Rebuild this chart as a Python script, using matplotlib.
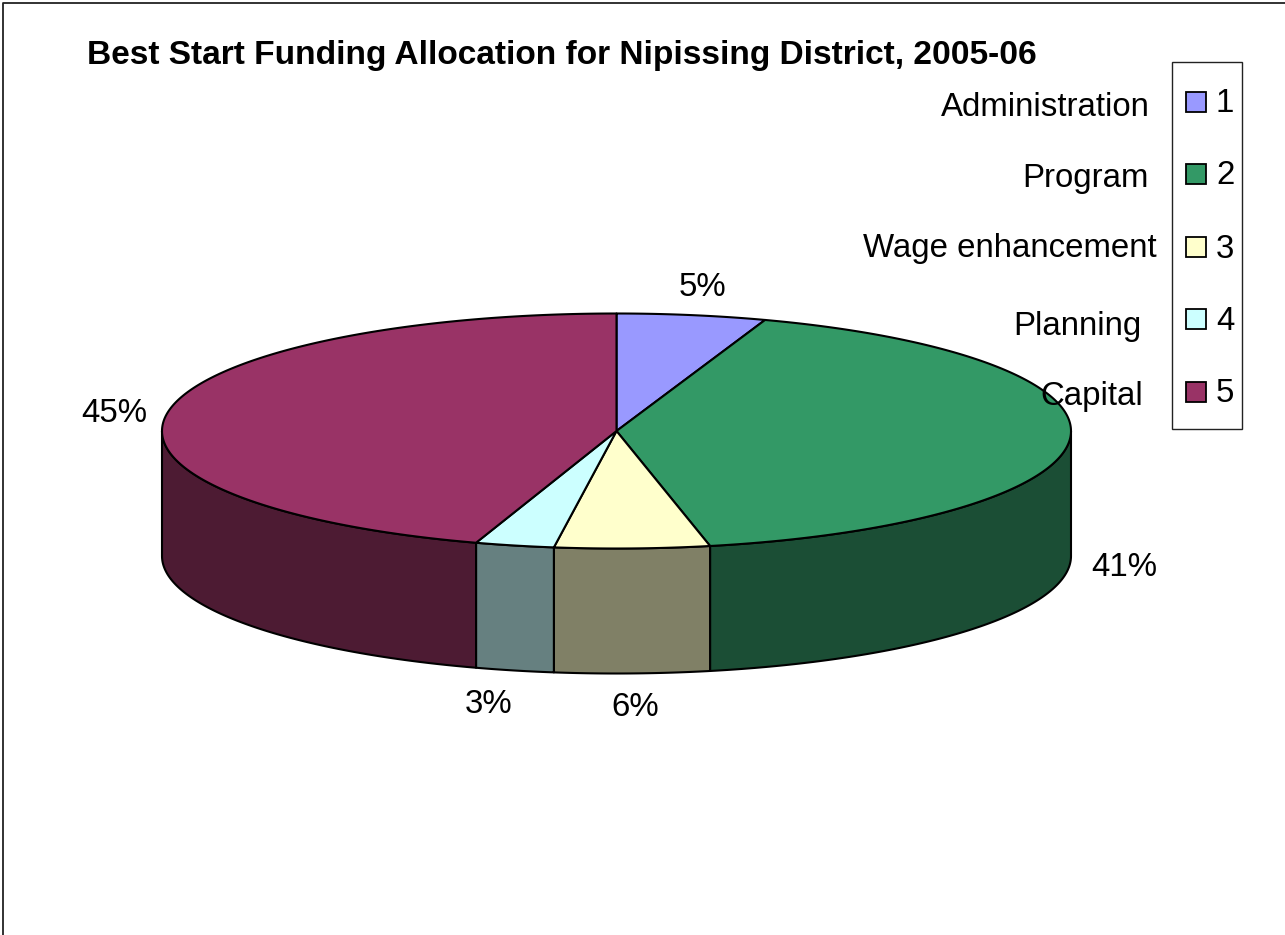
import numpy as np
import matplotlib
matplotlib.use("Agg")
import matplotlib.pyplot as plt
from matplotlib.patches import Polygon, Rectangle

plt.rcParams['font.family'] = ['Liberation Sans', 'DejaVu Sans']

TITLE = "Best Start Funding Allocation for Nipissing District, 2005-06"
slice_values = [5.3, 41.4, 5.5, 2.8, 45.0]
slice_labels = ["5%", "41%", "6%", "3%", "45%"]
legend_keys = ["1", "2", "3", "4", "5"]
category_names = ["Administration", "Program", "Wage enhancement", "Planning", "Capital"]
top_colors = ["#9999FF", "#339966", "#FFFFCC", "#CCFFFF", "#993366"]
side_colors = ["#4D4D80", "#1B4E35", "#808066", "#668080", "#4D1B33"]

W, H = 1285, 935
FS = 23.8
fig = plt.figure(figsize=(W / 100, H / 100), dpi=100, facecolor="white")
ax = fig.add_axes([0, 0, 1, 1])
ax.set_xlim(0, W)
ax.set_ylim(H, 0)
ax.axis("off")

# frame
ax.plot([3, 3, W + 5], [H + 5, 2.5, 2.5], color="#222222", lw=1.3, zorder=1)

cx, cy, rx, ry, depth = 616.5, 431.0, 454.5, 117.5, 125.0


def pt(theta):
    """theta in radians, clockwise from the top."""
    return cx + rx * np.sin(theta), cy - ry * np.cos(theta)


edges = np.radians(np.concatenate([[0], np.cumsum(slice_values)]) / sum(slice_values) * 360)

# sides (only the front half, pi/2..3pi/2, is visible)
for i in range(len(slice_values)):
    a, b = max(edges[i], np.pi / 2), min(edges[i + 1], 3 * np.pi / 2)
    if b <= a:
        continue
    t = np.linspace(a, b, 120)
    x, y = pt(t)
    verts = np.r_[np.c_[x, y], np.c_[x[::-1], y[::-1] + depth]]
    ax.add_patch(Polygon(verts, closed=True, fc=side_colors[i], ec="black", lw=1.5,
                         joinstyle="round", zorder=2))

# top faces
for i in range(len(slice_values)):
    t = np.linspace(edges[i], edges[i + 1], 240)
    x, y = pt(t)
    verts = np.r_[[[cx, cy]], np.c_[x, y]]
    ax.add_patch(Polygon(verts, closed=True, fc=top_colors[i], ec="black", lw=1.5,
                         joinstyle="round", zorder=3))

# title
ax.text(87, 55.5, TITLE, fontsize=24.1, fontweight="bold", color="black",
        ha="left", va="center", zorder=5)

# slice labels
label_pos = [(702, 287), (1124, 567.5), (635, 707.5), (489, 704.5), (114, 413.5)]
for s, (x, y) in zip(slice_labels, label_pos):
    ax.text(x, y, s, fontsize=FS, ha="center", va="center", color="black", zorder=5)

# category names overlaid on the chart
name_pos = [(1149.5, 107), (1148.5, 179), (1156.5, 249), (1141, 326), (1143.5, 396)]
for s, (x, y) in zip(category_names, name_pos):
    ax.text(x, y, s, fontsize=FS, ha="right", va="center", color="black", zorder=5)

# legend
ax.add_patch(Rectangle((1172, 62), 70, 366.5, fc="white", ec="#222222", lw=1.0, zorder=4))
key_y = [102, 174, 247, 319, 392]
for k, c, y in zip(legend_keys, top_colors, key_y):
    ax.add_patch(Rectangle((1186, y - 10), 20, 20, fc=c, ec="black", lw=1.3, zorder=5))
    ax.text(1216, y + 2, k, fontsize=FS, ha="left", va="center", color="black", zorder=5)

fig.savefig("out.png", dpi=100, facecolor="white")
